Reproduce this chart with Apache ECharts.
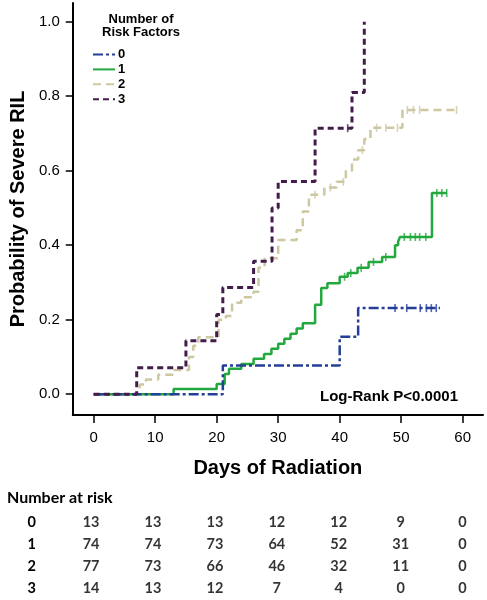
<!DOCTYPE html>
<html>
<head>
<meta charset="utf-8">
<script src="https://cdn.jsdelivr.net/npm/echarts@6/dist/echarts.min.js"></script>
<style>html,body{margin:0;padding:0;background:#fff}#c{width:487px;height:600px}</style>
</head>
<body>
<div id="c"></div>
<script>
// ---- data ----
var groupNames = ['0', '1', '2', '3'];
// group 0
var t0 = [0, 21, 40, 43, 56.3];
var p0 = [0, 0.077, 0.154, 0.231, 0.231];
var c0t = [49, 50.9, 53.1, 54.1, 54.9, 55.7];
var c0p = [0.231, 0.231, 0.231, 0.231, 0.231, 0.231];
// group 1
var t1 = [0, 13, 20, 21.3, 22, 24, 26, 27.7, 28.9, 30, 31, 32, 33, 34, 36, 37, 38, 40, 41.3, 42.9, 44.7, 46.9, 49, 49.5, 49.8, 55, 57.4];
var p1 = [0, 0.014, 0.027, 0.054, 0.068, 0.081, 0.095, 0.108, 0.122, 0.135, 0.149, 0.162, 0.176, 0.19, 0.24, 0.285, 0.298, 0.315, 0.325, 0.339, 0.355, 0.368, 0.40, 0.41, 0.422, 0.54, 0.54];
var c1t = [40.8, 41.8, 43.5, 45.5, 47.5, 50.5, 51.5, 52.3, 53, 54, 55.8, 56.6, 57.4];
var c1p = [0.315, 0.325, 0.339, 0.355, 0.368, 0.422, 0.422, 0.422, 0.422, 0.422, 0.54, 0.54, 0.54];
// group 2
var t2 = [0, 7.5, 8.5, 10.5, 13, 15.5, 16.2, 17, 20.3, 21.5, 22.5, 24, 26, 26.8, 27.8, 30, 33, 34, 35, 37.5, 39.5, 41, 42, 43, 44, 45, 50.2, 59];
var p2 = [0, 0.026, 0.039, 0.052, 0.065, 0.10, 0.13, 0.153, 0.20, 0.21, 0.245, 0.26, 0.275, 0.34, 0.365, 0.414, 0.44, 0.49, 0.535, 0.555, 0.57, 0.60, 0.63, 0.655, 0.685, 0.715, 0.763, 0.763];
var c2t = [36, 38.5, 40.6, 43.7, 46, 47.5, 49.4, 51, 52, 53, 59];
var c2p = [0.535, 0.555, 0.57, 0.655, 0.715, 0.715, 0.715, 0.763, 0.763, 0.763, 0.763];
// group 3
var t3 = [0, 7, 15, 20, 21, 26, 29, 30, 36, 42, 44];
var p3 = [0, 0.071, 0.143, 0.214, 0.286, 0.357, 0.5, 0.571, 0.714, 0.81, 1.0];
var c3t = [41.3];
var c3p = [0.714];
// ticks
var xTicks = [0, 10, 20, 30, 40, 50, 60];
var yTicks = [0, 0.2, 0.4, 0.6, 0.8, 1.0];
// number at risk
var riskTimes = [0, 10, 20, 30, 40, 50, 60];
var risk0 = [13, 13, 13, 12, 12, 9, 0];
var risk1 = [74, 74, 73, 64, 52, 31, 0];
var risk2 = [77, 73, 66, 46, 32, 11, 0];
var risk3 = [14, 13, 12, 7, 4, 0, 0];

// ---- build ----
function zip(a, b) { return a.map(function (v, i) { return [v, b[i]]; }); }
var colors = ['#243f98', '#22a83c', '#cdc8a0', '#431c4b'];
var dashes = [[10, 3, 3, 3], null, [8, 5], [6, 4]];
var widths = [2.5, 2.5, 2.5, 3];
var curves = [zip(t0, p0), zip(t1, p1), zip(t2, p2), zip(t3, p3)];
var censors = [zip(c0t, c0p), zip(c1t, c1p), zip(c2t, c2p), zip(c3t, c3p)];
var risks = [risk0, risk1, risk2, risk3];
var FONT = '"Liberation Sans", Arial, sans-serif';

var series = [];
var order = [2, 1, 0, 3];
order.forEach(function (g, k) {
  series.push({
    name: groupNames[g], type: 'line', step: 'end', symbol: 'none',
    data: curves[g], z: 2 + k,
    color: colors[g],
    lineStyle: { color: colors[g], width: widths[g], type: dashes[g] ? dashes[g] : 'solid' }
  });
  series.push({
    name: groupNames[g] + 'c', type: 'scatter', symbol: 'rect', symbolSize: [1.6, 8],
    data: censors[g], z: 2 + k, itemStyle: { color: colors[g] }, silent: true
  });
});
var tableData = [];
risks.forEach(function (row, r) {
  row.forEach(function (v, i) { tableData.push([riskTimes[i], groupNames[r], v]); });
});
series.push({
  type: 'scatter', xAxisIndex: 1, yAxisIndex: 1, symbolSize: 1,
  itemStyle: { color: 'rgba(0,0,0,0)' }, data: tableData,
  label: { show: true, position: 'inside', color: '#000', fontFamily: 'Lato', fontWeight: 'bold', fontSize: 14.5,
    formatter: function (p) { return String(p.data[2]); } }
});

var chart = echarts.init(document.getElementById('c'), null, { renderer: 'canvas' });
chart.setOption({
  animation: false,
  backgroundColor: '#fff',
  textStyle: { fontFamily: FONT },
  grid: [
    { left: 70, right: 4, top: 3, bottom: 185 },
    { left: 70, right: 4, top: 511, height: 88 }
  ],
  xAxis: [
    { type: 'value', gridIndex: 0, min: -3.4, max: 63.3,
      axisLine: { onZero: false, lineStyle: { color: '#000', width: 2 } },
      axisTick: { customValues: xTicks, length: 8, lineStyle: { color: '#000', width: 1.5 } },
      axisLabel: { customValues: xTicks, fontSize: 15, color: '#000', margin: 15, fontFamily: FONT },
      splitLine: { show: false },
      name: 'Days of Radiation', nameLocation: 'middle', nameGap: 43,
      nameTextStyle: { fontSize: 20, fontWeight: 'bold', color: '#000', fontFamily: FONT } },
    { type: 'value', gridIndex: 1, min: -3.4, max: 63.3, show: false }
  ],
  yAxis: [
    { type: 'value', gridIndex: 0, min: -0.056, max: 1.05,
      axisLine: { show: true, onZero: false, lineStyle: { color: '#000', width: 2 } },
      axisTick: { show: true, customValues: yTicks, length: 7, lineStyle: { color: '#000', width: 1.5 } },
      axisLabel: { customValues: yTicks, fontSize: 15, color: '#000', margin: 13, fontFamily: FONT,
        formatter: function (v) { return v.toFixed(1); } },
      splitLine: { show: false },
      name: 'Probability of Severe RIL', nameLocation: 'middle', nameGap: 44, nameRotate: 90,
      nameTextStyle: { fontSize: 20, fontWeight: 'bold', color: '#000', fontFamily: FONT } },
    { type: 'category', gridIndex: 1, data: groupNames, inverse: true,
      axisLine: { show: false }, axisTick: { show: false }, splitLine: { show: false },
      axisLabel: { margin: 34, color: '#000', fontFamily: 'Lato', fontWeight: 'bold', fontSize: 14.5 } }
  ],
  legend: {
    data: groupNames, orient: 'vertical', left: 87, top: 43, padding: 5,
    itemWidth: 22, itemHeight: 10, itemGap: 1.9, selectedMode: false,
    itemStyle: { opacity: 0 },
    textStyle: { fontSize: 13, lineHeight: 10, fontWeight: 'bold', color: '#000', fontFamily: FONT, padding: [0, 0, 0, -2] }
  },
  graphic: [
    { type: 'text', left: 102, top: 13, style: { text: 'Number of\nRisk Factors', font: 'bold 13px ' + FONT, fill: '#000', textAlign: 'center', lineHeight: 13 } },
    { type: 'text', left: 320, top: 389, style: { text: 'Log-Rank P<0.0001', font: 'bold 15px ' + FONT, fill: '#000' } },
    { type: 'text', left: 7, top: 490, style: { text: 'Number at risk', font: 'bold 16px Lato', fill: '#000' } }
  ],
  series: series
});
</script>
</body>
</html>
